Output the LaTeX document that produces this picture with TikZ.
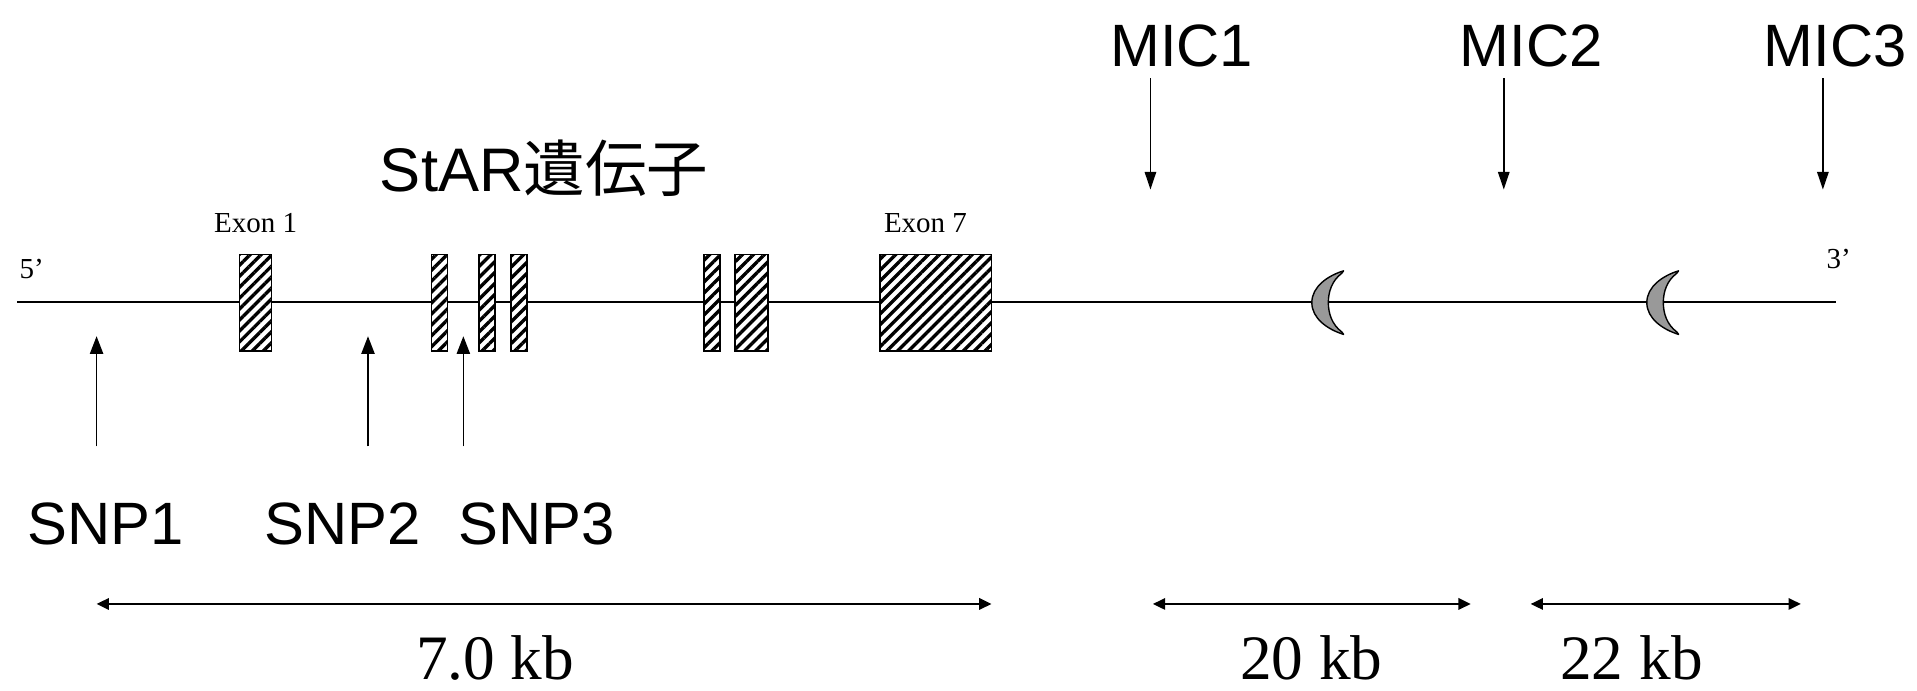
\documentclass[tikz,border=0pt]{standalone}
\usepackage{fontspec}
\setmainfont{Liberation Serif}
\newfontfamily\arial{Liberation Sans}
\newfontfamily\cjk{Noto Sans CJK JP}
\usetikzlibrary{arrows.meta,patterns.meta,calc}
\tikzset{
  exonbox/.style={draw, line width=0.9pt, preaction={fill=white},
    pattern={Lines[angle=45,distance=4.4pt,line width=1.9pt]}},
  crescent/.style={draw, line width=0.8pt, fill=black!40, line join=round},
  upar/.style={-{Triangle[length=10pt,width=7.5pt]}, line width=0.85pt},
  downar/.style={-{Triangle[length=10pt,width=6.5pt]}, line width=0.85pt},
  dimar/.style={{Triangle[length=7pt,width=6.5pt]}-{Triangle[length=7pt,width=6.5pt]}, line width=1.1pt},
  biglbl/.style={anchor=base, inner sep=0pt, font=\arial\fontsize{34}{40}\selectfont},
  kblbl/.style={anchor=base, inner sep=0pt, font=\fontsize{36}{40}\selectfont},
  smalllbl/.style={anchor=base, inner sep=0pt, font=\fontsize{16.5}{20}\selectfont},
}
\newcommand\crescentat[1]{%
  \draw[crescent] ($(#1)+(13,-26)$)
    .. controls ($(#1)+(0,-22)$) and ($(#1)+(-13,-13)$) .. ($(#1)+(-13,0)$)
    .. controls ($(#1)+(-13,13)$) and ($(#1)+(0,22)$) .. ($(#1)+(13,26)$)
    -- ($(#1)+(11.5,24)$)
    .. controls ($(#1)+(3.5,18)$) and ($(#1)+(0.5,9)$) .. ($(#1)+(0.5,0)$)
    .. controls ($(#1)+(0.5,-9)$) and ($(#1)+(3.5,-18)$) .. ($(#1)+(11.5,-24)$)
    -- cycle;}
\begin{document}
\begin{tikzpicture}[x=0.024452cm, y=-0.024452cm]
\useasboundingbox (0,0) rectangle (1568,565);
% main DNA line
\coordinate (L) at (14,247);
\coordinate (R) at (1502,247);
\draw[line width=1.1pt] (L) -- (R);
% exons
\draw[exonbox] (196,208) rectangle (222,287);
\draw[exonbox] (353,208) rectangle (366,287);
\draw[exonbox] (392,208) rectangle (405,287);
\draw[exonbox] (418,208) rectangle (431,287);
\draw[exonbox] (576,208) rectangle (589,287);
\draw[exonbox] (601,208) rectangle (628,287);
\draw[exonbox] (720,208) rectangle (811,287);
% crescents
\coordinate (c1) at (1086,247.5);
\coordinate (c2) at (1360,247.5);
\crescentat{c1}
\crescentat{c2}
% end labels
\node[smalllbl] (p5) at (26,228) {5’};
\node[smalllbl] (p3) at (1504,220) {3’};
\node[smalllbl] (ex1) at (209,190) {Exon 1};
\node[smalllbl] (ex7) at (757,190) {Exon 7};
\node[anchor=base, inner sep=0pt, font=\fontsize{35}{40}\selectfont] (star) at (445,157) {\arial StAR\cjk 遺伝子};
% SNPs
\node[biglbl] (snp1) at (86.5,445) {SNP1};
\node[biglbl] (snp2) at (280.5,445) {SNP2};
\node[biglbl] (snp3) at (439,445) {SNP3};
\coordinate (s1a) at (79,365); \coordinate (s1b) at (79,275);
\coordinate (s2a) at (301,365); \coordinate (s2b) at (301,275);
\coordinate (s3a) at (379,365); \coordinate (s3b) at (379,275);
\draw[upar] (s1a) -- (s1b);
\draw[upar] (s2a) -- (s2b);
\draw[upar] (s3a) -- (s3b);
% MICs
\node[biglbl] (mic1) at (966.5,54) {MIC1};
\node[biglbl] (mic2) at (1252.5,54) {MIC2};
\node[biglbl] (mic3) at (1501,54) {MIC3};
\coordinate (m1a) at (941,64); \coordinate (m1b) at (941,155);
\coordinate (m2a) at (1230,64); \coordinate (m2b) at (1230,155);
\coordinate (m3a) at (1491,64); \coordinate (m3b) at (1491,155);
\draw[downar] (m1a) -- (m1b);
\draw[downar] (m2a) -- (m2b);
\draw[downar] (m3a) -- (m3b);
% distances
\coordinate (d1a) at (79,494); \coordinate (d1b) at (811,494);
\coordinate (d2a) at (943,494); \coordinate (d2b) at (1203,494);
\coordinate (d3a) at (1252,494); \coordinate (d3b) at (1473,494);
\draw[dimar] (d1a) -- (d1b);
\draw[dimar] (d2a) -- (d2b);
\draw[dimar] (d3a) -- (d3b);
\node[kblbl] (k1) at (405,556) {7.0 kb};
\node[kblbl] (k2) at (1072.5,556) {20 kb};
\node[kblbl] (k3) at (1334.5,556) {22 kb};
\end{tikzpicture}
\end{document}
